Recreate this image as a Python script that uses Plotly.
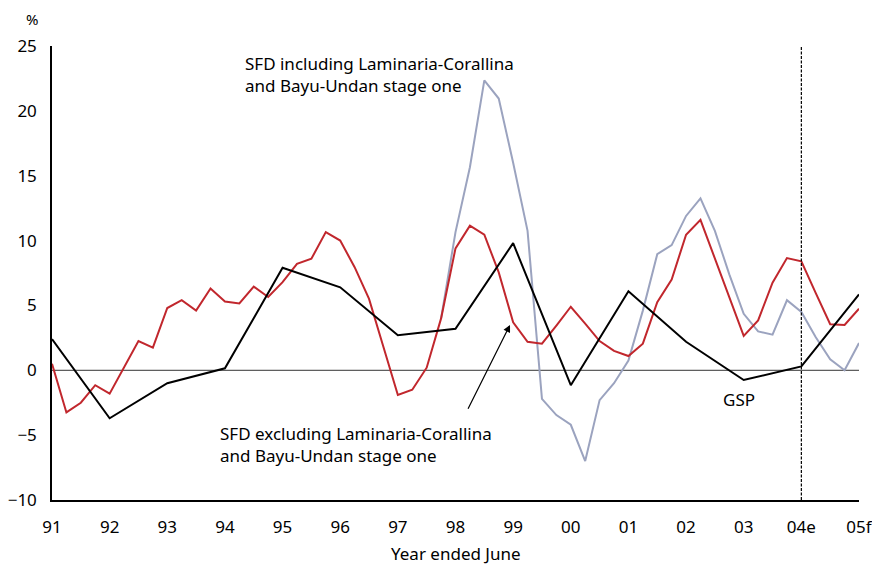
import plotly.graph_objects as go

# x positions: years since June 1991 (0 = 91, 14 = 05f); quarterly series step 0.25
year_labels = ["91", "92", "93", "94", "95", "96", "97", "98", "99", "00", "01", "02", "03", "04e", "05f"]
year_pos = list(range(15))

quarter_pos = [i * 0.25 for i in range(57)]

sfd_excl = [0.5, -3.25, -2.5, -1.15, -1.8, 0.2, 2.25, 1.75,
            4.8, 5.4, 4.6, 6.3, 5.3, 5.15, 6.45, 5.65,
            6.8, 8.2, 8.6, 10.65, 10.0, 7.95, 5.5, 1.8,
            -1.9, -1.5, 0.2, 4.0, 9.4, 11.15, 10.45, 7.55,
            3.7, 2.2, 2.05, 3.45, 4.9, 3.6, 2.25, 1.5,
            1.1, 2.05, 5.25, 7.0, 10.45, 11.6, 8.6, 5.6,
            2.65, 3.85, 6.75, 8.65, 8.4, 5.95, 3.55, 3.5, 4.75]

sfd_incl = [None] * 27 + [4.0, 10.65, 15.65, 22.35, 20.95,
            16.0, 10.75, -2.2, -3.45, -4.2, -7.0, -2.3, -1.0,
            0.75, 4.6, 8.95, 9.65, 11.9, 13.25, 10.75, 7.4,
            4.35, 3.0, 2.75, 5.4, 4.5, 2.55, 0.85, 0.0, 2.1]

gsp = [2.4, -3.7, -1.0, 0.15, 7.9, 6.4, 2.7, 3.2, 9.8, -1.15, 6.1, 2.2, -0.75, 0.3, 5.85]

y_ticks = [-10, -5, 0, 5, 10, 15, 20, 25]

RED = "#C1272D"
GREY = "#9BA3BF"
FONT = "Noto Sans"

fig = go.Figure()
fig.add_trace(go.Scatter(x=quarter_pos, y=sfd_incl, mode="lines",
                         line=dict(color=GREY, width=2), showlegend=False, connectgaps=False))
fig.add_trace(go.Scatter(x=quarter_pos, y=sfd_excl, mode="lines",
                         line=dict(color=RED, width=2), showlegend=False))
fig.add_trace(go.Scatter(x=year_pos, y=gsp, mode="lines",
                         line=dict(color="black", width=2), showlegend=False))

# zero line and forecast divider
fig.add_shape(type="line", xref="x", yref="y", x0=0, x1=14, y0=0, y1=0,
              line=dict(color="#333333", width=1), layer="below")
fig.add_shape(type="line", xref="x", yref="y", x0=13, x1=13, y0=-10, y1=25,
              line=dict(color="black", width=1.2, dash="3px,1.5px"))

fig.add_annotation(xref="paper", yref="paper", x=0.2367, y=0.9375, xanchor="left", yanchor="middle",
                   align="left", showarrow=False,
                   text="SFD including Laminaria-Corallina<br>and Bayu-Undan stage one",
                   font=dict(family=FONT, size=17, color="black"))
fig.add_annotation(xref="paper", yref="paper", x=0.2057, y=0.1217, xanchor="left", yanchor="middle",
                   align="left", showarrow=False,
                   text="SFD excluding Laminaria-Corallina<br>and Bayu-Undan stage one",
                   font=dict(family=FONT, size=17, color="black"))
fig.add_annotation(xref="paper", yref="paper", x=0.851, y=0.222, xanchor="center", yanchor="middle",
                   showarrow=False, text="GSP", font=dict(family=FONT, size=17, color="black"))
fig.add_annotation(xref="x", yref="y", x=7.946, y=3.5, axref="x", ayref="y", ax=7.205, ay=-3.08,
                   text="", showarrow=True, arrowhead=2, arrowsize=1.2, arrowwidth=1.2, arrowcolor="black")
fig.add_annotation(xref="paper", yref="paper", x=-0.0248, y=1.06, xanchor="center", yanchor="middle",
                   showarrow=False, text="%", font=dict(family=FONT, size=15, color="black"))
fig.add_annotation(xref="paper", yref="paper", x=0.5, y=-0.118, xanchor="center", yanchor="middle",
                   showarrow=False, text="Year ended June", font=dict(family=FONT, size=17, color="black"))

# the page places the figure 8 px in from the top-left corner, so the figure is sized to fit
fig.update_layout(
    width=872, height=559,
    margin=dict(l=44, r=21, t=38, b=67, autoexpand=False),
    plot_bgcolor="white", paper_bgcolor="white",
    font=dict(family=FONT, size=17, color="black"),
    xaxis=dict(range=[0, 14], tickvals=year_pos, ticktext=year_labels, showgrid=False,
               zeroline=False, showline=True, linecolor="black", linewidth=1.5, ticks="",
               ticklabelstandoff=11, tickfont=dict(size=17), automargin=False),
    yaxis=dict(range=[-10, 25], tickvals=y_ticks, showgrid=False, zeroline=False,
               showline=True, linecolor="black", linewidth=1.5, ticks="",
               ticklabelstandoff=10, tickfont=dict(size=17), automargin=False),
)

fig.write_html("out.html")
